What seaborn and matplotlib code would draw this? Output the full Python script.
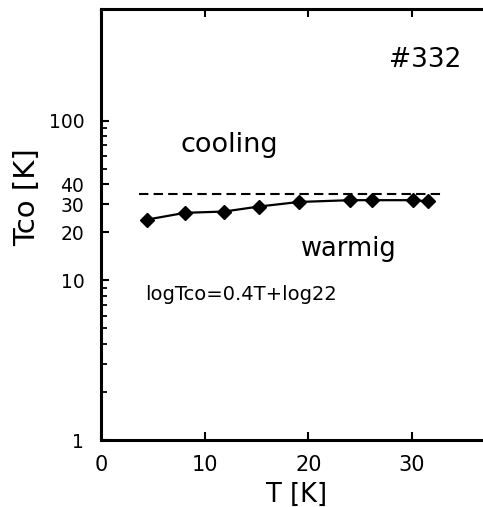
import matplotlib
matplotlib.use("Agg")
import matplotlib.pyplot as plt
import seaborn as sns
import numpy as np
import pandas as pd
from matplotlib.ticker import FixedLocator, FixedFormatter, NullFormatter

# data
T = [4.4, 8.1, 11.9, 15.2, 19.1, 24.0, 26.1, 30.1, 31.5]
Tco = [24.0, 26.5, 27.0, 29.0, 31.0, 31.8, 31.8, 31.8, 31.3]
cooling_level = 35.0
cooling_x = [3.7, 33.1]

x_ticks = [0, 10, 20, 30]
x_ticklabels = ["0", "10", "20", "30"]
y_major = [1, 10, 20, 30, 40, 100]
y_major_labels = ["1", "10", "20", "30", "40", "100"]
y_minor = [2, 3, 4, 5, 6, 7, 8, 9, 50, 60, 70, 80, 90]

sns.set_style("white")
plt.rcParams['font.family'] = ['DejaVu Sans']
plt.rcParams['text.color'] = 'black'
plt.rcParams['axes.labelcolor'] = 'black'
plt.rcParams['xtick.color'] = 'black'
plt.rcParams['ytick.color'] = 'black'

fig = plt.figure(figsize=(4.83, 5.07), dpi=100)
ax = fig.add_axes([0.209, 0.132, 0.801, 0.850])

df = pd.DataFrame({"T": T, "Tco": Tco})
sns.lineplot(data=df, x="T", y="Tco", ax=ax, color="black", linewidth=1.6,
             marker="D", markersize=7, markeredgecolor="black",
             markerfacecolor="black", markeredgewidth=1)
ax.plot(cooling_x, [cooling_level, cooling_level], color="black",
        linestyle=(0, (4.5, 2.5)), linewidth=1.5)

ax.set_yscale("log")
ax.set_ylim(1, 500)
ax.set_xlim(0, 37.3)

ax.yaxis.set_major_locator(FixedLocator(y_major))
ax.yaxis.set_major_formatter(FixedFormatter(y_major_labels))
ax.yaxis.set_minor_locator(FixedLocator(y_minor))
ax.yaxis.set_minor_formatter(NullFormatter())
ax.xaxis.set_major_locator(FixedLocator(x_ticks))
ax.xaxis.set_major_formatter(FixedFormatter(x_ticklabels))

ax.tick_params(axis="x", which="major", direction="in", length=6, width=1.5,
               top=True, bottom=True, labelsize=15, pad=11)
ax.tick_params(axis="y", which="major", direction="in", length=5.5, width=1.5,
               left=True, right=False, labelsize=13.5, pad=12)
ax.tick_params(axis="y", which="minor", direction="in", length=4, width=1.3,
               left=True, right=False)

for s in ["left", "bottom", "top"]:
    ax.spines[s].set_linewidth(2.2)
    ax.spines[s].set_color("black")
ax.spines["right"].set_visible(False)

ax.set_xlabel("")
ax.set_ylabel("")
fig.text(297 / 483, 1 - 495 / 507, "T [K]", fontsize=18.5, ha="center", va="center")
fig.text(27 / 483, 1 - 197 / 507, "Tco [K]", fontsize=21, ha="center", va="center",
         rotation=90)

ax.text(31.3, 240, "#332", fontsize=19, ha="center", va="center")
ax.text(12.4, 70, "cooling", fontsize=19.5, ha="center", va="center")
ax.text(23.9, 15.8, "warmig", fontsize=18.5, ha="center", va="center")
ax.text(13.5, 8.2, "logTco=0.4T+log22", fontsize=14, ha="center", va="center")

fig.savefig("out.png", dpi=100)
